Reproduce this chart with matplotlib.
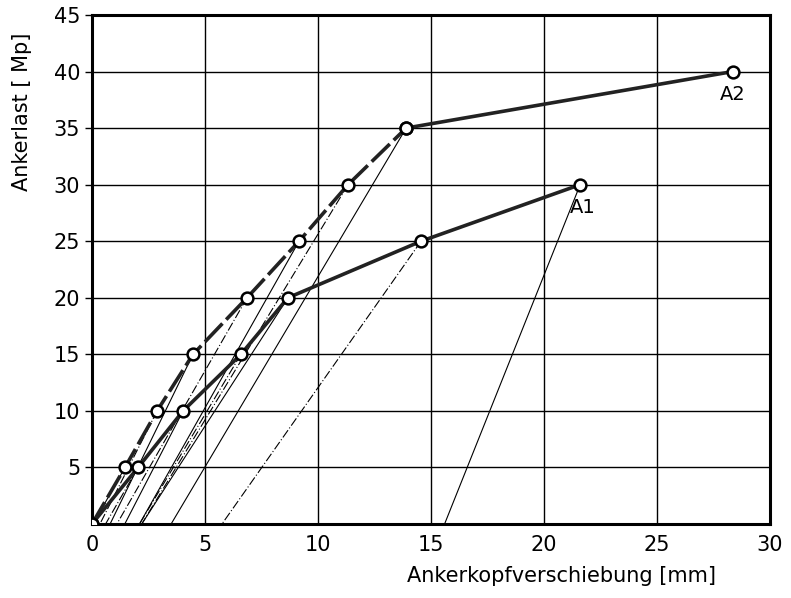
import matplotlib
matplotlib.use("Agg")
import matplotlib.pyplot as plt

# Belastungskurven der Anker A1 und A2 (Verschiebung in mm, Last in Mp)
a2_weg = [0, 1.46, 2.88, 4.47, 6.86, 9.16, 11.33, 13.9]
a2_last = [0, 5, 10, 15, 20, 25, 30, 35]
a2_end_weg = [13.9, 28.36]
a2_end_last = [35, 40]

a1_weg = [0, 2.04, 4.03, 6.59, 8.67, 14.56, 21.6]
a1_last = [0, 5, 10, 15, 20, 25, 30]

# bleibende Verschiebung nach Entlastung je Laststufe
a2_rest = [0.05, 0.35, 0.8, 1.1, 2.1, 2.2, 3.5]
a1_rest = [0.6, 1.45, 2.1, 2.2, 5.75, 15.6]

fig = plt.figure(figsize=(7.91, 5.98), dpi=100)
ax = fig.add_axes([0.1163, 0.1237, 0.8572, 0.8513])

ax.set_xlim(0, 30)
ax.set_ylim(0, 45)
ax.set_xticks(range(0, 31, 5))
ax.set_yticks(range(5, 46, 5))
ax.grid(True, color="black", linewidth=1.0)
ax.set_axisbelow(True)
for s in ax.spines.values():
    s.set_linewidth(2.2)
ax.tick_params(axis="both", labelsize=15, length=5, width=1, direction="out")
ax.tick_params(axis="x", length=0, pad=8)

# Entlastungsaeste (duenne Linien)
stile = ["-", (0, (8, 2, 1, 2))]
for i, (x, y, r) in enumerate(zip(a2_weg[1:], a2_last[1:], a2_rest)):
    ax.plot([x, r], [y, 0], color="black", lw=0.8, ls=stile[i % 2], zorder=2)
for i, (x, y, r) in enumerate(zip(a1_weg[1:], a1_last[1:], a1_rest)):
    ax.plot([x, r], [y, 0], color="black", lw=0.8, ls=stile[(i + 1) % 2], zorder=2)

mk = dict(marker="o", markersize=8.5, markerfacecolor="white",
          markeredgecolor="black", markeredgewidth=1.8)
ax.plot(a2_weg, a2_last, color="#222222", lw=2.6, ls=(0, (7, 1.5)), zorder=3, **mk)
ax.plot(a2_end_weg, a2_end_last, color="#222222", lw=2.6, zorder=3, **mk)
ax.plot(a1_weg, a1_last, color="#222222", lw=2.6, zorder=3, **mk)

ax.text(a2_end_weg[-1], a2_end_last[-1] - 1.2, "A2", fontsize=14, ha="center", va="top")
ax.text(a1_weg[-1] + 0.1, a1_last[-1] - 1.2, "A1", fontsize=14, ha="center", va="top")

ax.set_xlabel("Ankerkopfverschiebung [mm]", fontsize=15)
ax.xaxis.set_label_coords(0.692, -0.083)
ax.set_ylabel("Ankerlast [ Mp]", fontsize=15)
ax.yaxis.set_label_coords(-0.088, 0.81)

fig.savefig("out.png", dpi=100)
